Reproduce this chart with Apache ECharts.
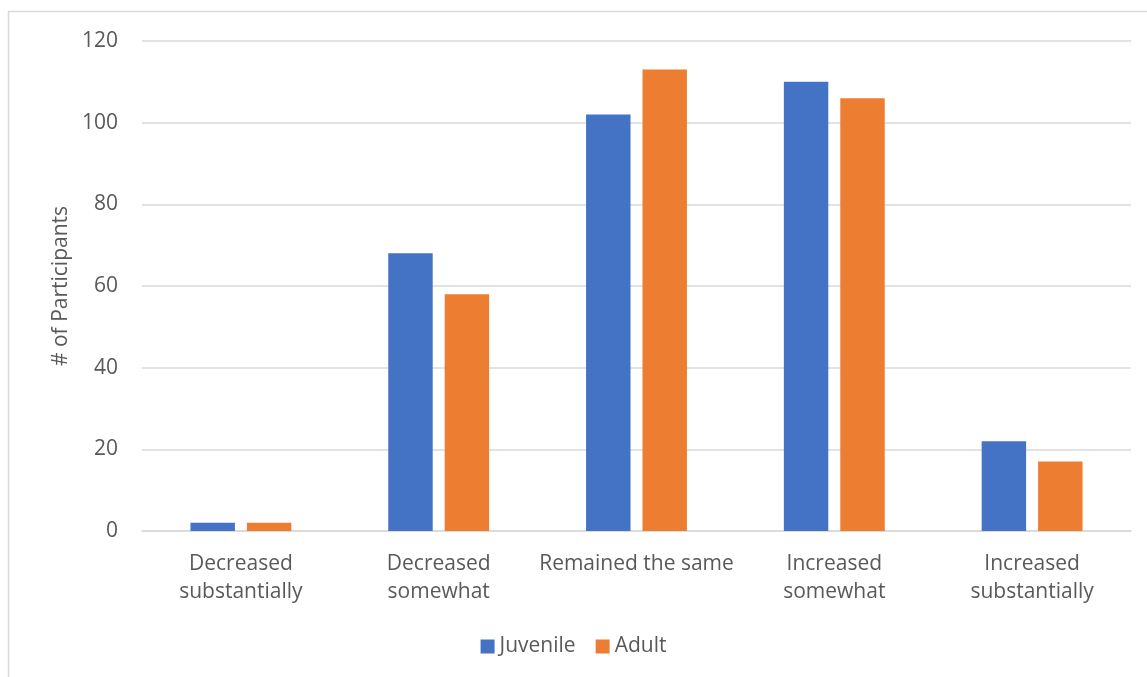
<!DOCTYPE html>
<html>
<head>
<meta charset="utf-8">
<script src="https://cdn.jsdelivr.net/npm/echarts@6/dist/echarts.min.js"></script>
<style>
  html, body { margin: 0; padding: 0; background: #fff; }
  #chart { width: 1147px; height: 677px; }
</style>
</head>
<body>
<div id="chart"></div>
<script>
// categories and values
const categories = [
  'Decreased\nsubstantially',
  'Decreased\nsomewhat',
  'Remained the same',
  'Increased\nsomewhat',
  'Increased\nsubstantially'
]
const juvenile = [2, 68, 102, 110, 22]
const adult = [2, 58, 113, 106, 17]
const seriesNames = ['Juvenile', 'Adult']

const font = '"Open Sans", Lato, sans-serif'
const textColor = '#595959'

const chart = echarts.init(document.getElementById('chart'))

const option = {
  color: ['#4472C4', '#ED7D31'],
  animation: false,
  textStyle: { fontFamily: font },
  graphic: [
    {
      type: 'rect',
      shape: { x: 8.5, y: 11.5, width: 1200, height: 720 },
      style: { fill: 'none', stroke: '#d9d9d9', lineWidth: 1.5 },
      silent: true
    }
  ],
  grid: { left: 142, right: 16, top: 41, bottom: 146 },
  legend: {
    bottom: 15,
    left: 'center',
    itemWidth: 14,
    itemHeight: 14,
    itemGap: 20,
    icon: 'rect',
    textStyle: { color: textColor, fontSize: 21, fontFamily: font },
    data: seriesNames
  },
  xAxis: {
    type: 'category',
    data: categories,
    axisLine: { lineStyle: { color: '#d9d9d9', width: 1.5 } },
    axisTick: { show: false },
    axisLabel: { color: textColor, fontSize: 21, lineHeight: 28, margin: 19, interval: 0, fontFamily: font }
  },
  yAxis: {
    type: 'value',
    min: 0,
    max: 120,
    interval: 20,
    name: '# of Participants',
    nameLocation: 'middle',
    nameGap: 66,
    nameTextStyle: { color: textColor, fontSize: 21, fontFamily: font },
    axisLine: { show: false },
    axisTick: { show: false },
    axisLabel: { color: textColor, fontSize: 21, margin: 24, fontFamily: font },
    splitLine: { lineStyle: { color: '#d9d9d9', width: 1.5 } }
  },
  series: [
    {
      name: seriesNames[0],
      type: 'bar',
      data: juvenile,
      barGap: '27%',
      barCategoryGap: '49%'
    },
    {
      name: seriesNames[1],
      type: 'bar',
      data: adult,
      barGap: '27%',
      barCategoryGap: '49%'
    }
  ]
}

chart.setOption(option)
</script>
</body>
</html>
